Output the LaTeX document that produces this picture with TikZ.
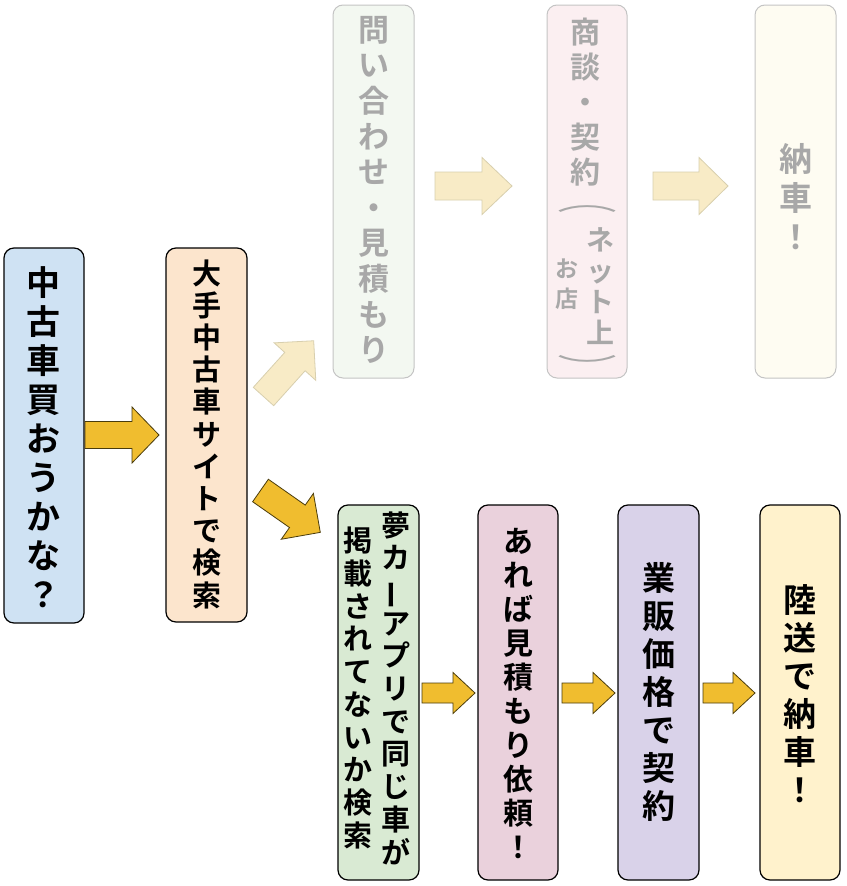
\documentclass[tikz,border=0pt]{standalone}
\usepackage{graphicx}
\usepackage{fontspec}
\newfontfamily\cjk{Noto Sans CJK JP}[BoldFont=* Bold]
\definecolor{cBlue}{HTML}{CFE2F3}
\definecolor{cPeach}{HTML}{FCE5CD}
\definecolor{cGreen}{HTML}{D9EAD3}
\definecolor{cPink}{HTML}{EAD1DC}
\definecolor{cLav}{HTML}{D9D2E9}
\definecolor{cCream}{HTML}{FFF2CC}
\definecolor{fGreen}{HTML}{F3F8F1}
\definecolor{fPink}{HTML}{FBEFF1}
\definecolor{fCream}{HTML}{FEFCF2}
\definecolor{fBorder}{HTML}{C4C4C4}
\definecolor{fText}{HTML}{A8A8A8}
\definecolor{arrFill}{HTML}{F0BD2F}
\definecolor{arrLine}{HTML}{4A3C0C}
\definecolor{farrFill}{HTML}{F8EBC6}
\definecolor{farrLine}{HTML}{D8CFAE}
\newcommand\vbar{\rotatebox[origin=c]{90}{ー}}
\newcommand\barrow[8]{%
  \draw[#1, shift={(#2,#3)}, rotate=#4] (0,-#6) -- ({#5-#8},-#6) -- ({#5-#8},-#7) -- (#5,0) -- ({#5-#8},#7) -- ({#5-#8},#6) -- (0,#6) -- cycle;}
\tikzset{
  box/.style={draw=black, line width=1.2pt, rounded corners=10pt, minimum width=80pt, minimum height=374pt, inner sep=0pt},
  fbox/.style={draw=fBorder, line width=1pt, rounded corners=10pt, minimum width=80pt, minimum height=373pt, inner sep=0pt},
  vtxt/.style={align=center, inner sep=0pt, text=black},
  ftxt/.style={align=center, inner sep=0pt, text=fText},
  arr/.style={fill=arrFill, draw=arrLine, line width=0.8pt, line join=miter},
  farr/.style={fill=farrFill, draw=farrLine, line width=0.8pt, line join=miter},
}
\begin{document}
\begin{tikzpicture}[x=1pt, y=-1pt]
\useasboundingbox[fill=white] (0,0) rectangle (846,886);
% boxes
\node[box, fill=cBlue, minimum height=375pt] (b1) at (44,435.5) {};
\node[box, fill=cPeach, minimum width=81pt] (b2) at (206.5,435) {};
\node[fbox, fill=fGreen, minimum width=81pt] (b3) at (373.5,191.5) {};
\node[fbox, fill=fPink] (b4) at (587,191.5) {};
\node[fbox, fill=fCream, minimum width=81pt] (b5) at (795.5,191.5) {};
\node[box, fill=cGreen, minimum width=81pt, minimum height=375pt] (b6) at (378.5,692.5) {};
\node[box, fill=cPink, minimum height=375pt] (b7) at (518,692.5) {};
\node[box, fill=cLav, minimum width=81pt, minimum height=375pt] (b8) at (658.5,692.5) {};
\node[box, fill=cCream, minimum height=375pt] (b9) at (800,692.5) {};
% texts
\node[vtxt, font=\cjk\bfseries\fontsize{34}{39}\selectfont] (t1) at (44,437) {中\\古\\車\\買\\お\\う\\か\\な\\？};
\node[vtxt, font=\cjk\bfseries\fontsize{29}{32.2}\selectfont] (t2) at (206.5,434) {大\\手\\中\\古\\車\\サ\\イ\\ト\\で\\検\\索};
\node[ftxt, font=\cjk\bfseries\fontsize{31}{35.6}\selectfont] (t3) at (374,190) {問\\い\\合\\わ\\せ\\・\\見\\積\\も\\り};
\node[ftxt, font=\cjk\bfseries\fontsize{30}{35}\selectfont] (t4) at (585,102) {商\\談\\・\\契\\約};
\node[ftxt, font=\cjk\fontsize{24}{24}\selectfont] (t4p) at (587,209) {\scalebox{2.5}[1.1]{︵}};
\node[ftxt, font=\cjk\bfseries\fontsize{28}{31}\selectfont] (t4c) at (600,286) {ネ\\ッ\\ト\\上};
\node[ftxt, font=\cjk\fontsize{24}{24}\selectfont] (t4q) at (587,366) {\scalebox{2.5}[1.1]{︶}};
\node[ftxt, font=\cjk\bfseries\fontsize{23}{30}\selectfont] (t4b) at (567,284) {お\\店};
\node[ftxt, font=\cjk\bfseries\fontsize{33}{39}\selectfont] (t5) at (795.5,197) {納\\車\\！};
\node[vtxt, font=\cjk\bfseries\fontsize{29}{32.7}\selectfont] (t6a) at (396,688) {夢\\カ\\\vbar\\ア\\プ\\リ\\で\\同\\じ\\車\\が};
\node[vtxt, font=\cjk\bfseries\fontsize{29}{32.7}\selectfont] (t6b) at (358,688) {掲\\載\\さ\\れ\\て\\な\\い\\か\\検\\索};
\node[vtxt, font=\cjk\bfseries\fontsize{30}{34}\selectfont] (t7) at (518,694) {あ\\れ\\ば\\見\\積\\も\\り\\依\\頼\\！};
\node[vtxt, font=\cjk\bfseries\fontsize{33}{38}\selectfont] (t8) at (658.5,692) {業\\販\\価\\格\\で\\契\\約};
\node[vtxt, font=\cjk\bfseries\fontsize{33}{38}\selectfont] (t9) at (800,694) {陸\\送\\で\\納\\車\\！};
% arrows
\barrow{arr}{85}{435}{0}{74}{13.5}{28}{27}
\barrow{farr}{435}{186}{0}{77}{14}{28.5}{30}
\barrow{farr}{653}{186}{0}{75}{14}{28.5}{29}
\barrow{farr}{263.5}{396.5}{48}{75}{13.7}{28}{28}
\barrow{arr}{260.5}{490.5}{-35}{73}{13.7}{28}{28}
\barrow{arr}{422}{693}{0}{53}{10}{20.5}{22}
\barrow{arr}{562}{693}{0}{53}{10}{20.5}{22}
\barrow{arr}{703}{693}{0}{52}{10}{20.5}{22}
\end{tikzpicture}
\end{document}
